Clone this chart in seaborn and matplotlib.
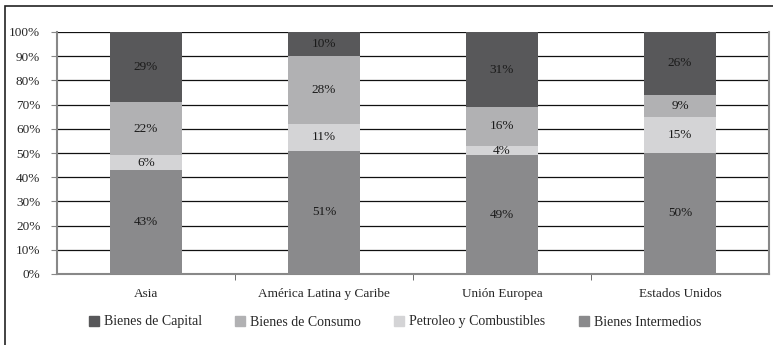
import numpy as np
import pandas as pd
import matplotlib
matplotlib.use("Agg")
import matplotlib.pyplot as plt
import seaborn as sns
from matplotlib.patches import Rectangle

regions = ["Asia", "América Latina y Caribe", "Unión Europea", "Estados Unidos"]
series = ["Bienes Intermedios", "Petroleo y Combustibles", "Bienes de Consumo", "Bienes de Capital"]
intermedios = [43, 51, 49, 50]
petroleo = [6, 11, 4, 15]
consumo = [22, 28, 16, 9]
capital = [29, 10, 31, 26]
colors = {"Bienes Intermedios": "#8a8a8c", "Petroleo y Combustibles": "#d4d4d6",
          "Bienes de Consumo": "#b1b1b3", "Bienes de Capital": "#58585a"}

sns.set_style("white")
plt.rcParams['font.family'] = ['Liberation Serif', 'DejaVu Serif']

df = pd.DataFrame({"region": regions, "Bienes Intermedios": intermedios,
                   "Petroleo y Combustibles": petroleo, "Bienes de Consumo": consumo,
                   "Bienes de Capital": capital})

fig = plt.figure(figsize=(7.73, 3.45), dpi=100)
ax = fig.add_axes([57 / 773, 71 / 345, 712 / 773, 242 / 345])

# grid behind bars
ax.set_axisbelow(True)
ax.yaxis.grid(True, color="#111111", linewidth=0.9)

# cumulative totals drawn with seaborn, biggest first
bottom = np.zeros(len(regions))
for s in series:
    vals = df[s].values
    sns.barplot(x=df["region"], y=bottom + vals, color=colors[s], width=0.4,
                ax=ax, saturation=1)
    bottom = bottom + vals

n = len(regions)
for k, s in enumerate(series):
    for p in ax.patches[k * n:(k + 1) * n]:
        p.set_zorder(10 - k)
        p.set_linewidth(0)

bottom = np.zeros(len(regions))
for s in series:
    vals = df[s].values
    for i, v in enumerate(vals):
        ax.text(i, bottom[i] + v / 2, f"{v}%", ha="center", va="center",
                fontsize=9.5, color="#1a1a1a", zorder=20)
    bottom = bottom + vals

ax.set_ylim(0, 100)
ax.set_xlim(-0.5, len(regions) - 0.5)
ax.set_yticks(range(0, 101, 10))
ax.set_yticklabels([f"{t}%" for t in range(0, 101, 10)], fontsize=9.5)
ax.set_xlabel("")
ax.set_ylabel("")
ax.set_xticks(range(len(regions)))
ax.set_xticklabels(regions, fontsize=9.5)
ax.tick_params(axis="x", length=0, pad=10)
ax.tick_params(axis="y", length=4, color="#888888", left=True, pad=8)
ax.set_xticks([0.5, 1.5, 2.5], minor=True)
ax.tick_params(axis="x", which="minor", length=4, color="#555555", bottom=True)
for side in ["left", "bottom", "right"]:
    ax.spines[side].set_color("#888888")
    ax.spines[side].set_linewidth(1.5)
ax.spines["top"].set_visible(False)

legend_order = ["Bienes de Capital", "Bienes de Consumo", "Petroleo y Combustibles", "Bienes Intermedios"]
h = [Rectangle((0, 0), 1, 1, color=colors[s]) for s in legend_order]
fig.legend(h, legend_order, loc="center", bbox_to_anchor=(395 / 773, 1 - 322 / 345), ncol=4,
           frameon=False, fontsize=10, handlelength=0.72, handleheight=0.72,
           columnspacing=2.4, handletextpad=0.35)

# outer frame, running off the right and bottom edges
fig.patches.append(Rectangle((5 / 773, -5 / 345), 775 / 773, 344 / 345, transform=fig.transFigure,
                             fill=False, edgecolor="#222222", linewidth=1.2))

fig.savefig("out.png", dpi=100)
